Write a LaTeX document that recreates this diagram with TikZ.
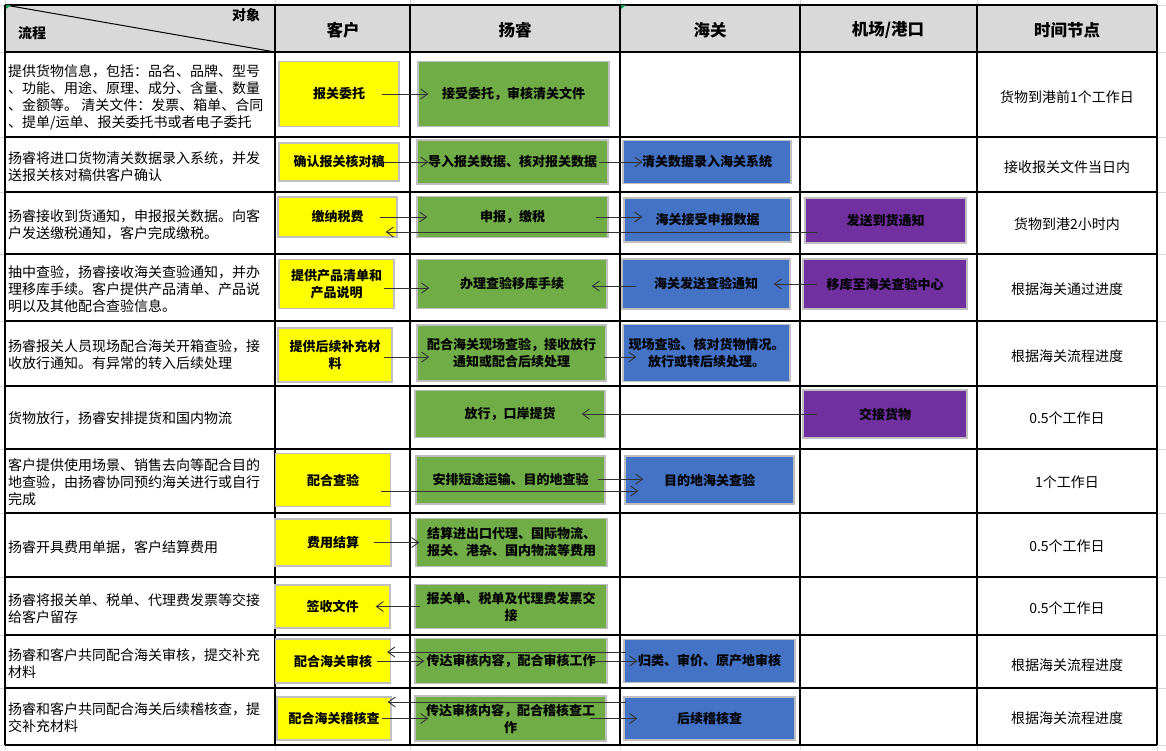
\documentclass[tikz,border=0pt]{standalone}
\usepackage{fontspec}
\setmainfont{Noto Sans CJK SC}
\usetikzlibrary{arrows.meta}
\definecolor{kyellow}{HTML}{FFFF00}
\definecolor{kgreen}{HTML}{70AD47}
\definecolor{kblue}{HTML}{4472C4}
\definecolor{kpurple}{HTML}{7030A0}
\definecolor{khead}{HTML}{D9D9D9}
\definecolor{kline}{HTML}{BFBFBF}
\definecolor{kmark}{HTML}{00A050}

\begin{document}
\begin{tikzpicture}[x=1pt, y=-1pt,
        box/.style={draw=kline, line width=1.3pt, align=center, inner sep=0pt, font=\fontsize{13}{17}\selectfont\bfseries},
        wh/.style 2 args={minimum width=#1pt, minimum height=#2pt},
        cust/.style={box, fill=kyellow},
        yr/.style={box, fill=kgreen},
        hg/.style={box, fill=kblue},
        gk/.style={box, fill=kpurple},
        flow/.style={anchor=west, align=left, inner sep=0pt, font=\fontsize{14}{17}\selectfont},
        due/.style={inner sep=0pt, font=\fontsize{14}{17}\selectfont},
        head/.style={inner sep=0pt, font=\fontsize{16.5}{19}\selectfont\bfseries},
        arr/.style={draw=black!80, line width=0.9pt, -{Straight Barb[length=7pt,width=10pt]}}]
        \useasboundingbox (0,0) rectangle (1166,750);
        \foreach \y in {5,52,137,192,254,321,386,449,513,577,635,688,745}
                \draw[black!15, line width=0.8pt] (0,\y) -- (1166,\y);
        \foreach \x in {5,275,410,620,800,977,1157}
                \draw[black!15, line width=0.8pt] (\x,0) -- (\x,750);
        \fill[khead] (5,5) rectangle (1157,52);
        \foreach \y in {5,52,137,192,254,321,386,449,513,577,635,688,745}
                \draw[line width=1.3pt] (5,\y) -- (1157,\y);
        \foreach \x in {5,275,410,620,800,977,1157}
                \draw[line width=1.3pt] (\x,5) -- (\x,745);
        \draw[line width=1pt] (5,5) -- (275,52);
        \fill[kmark] (6,5) -- (11,5) -- (6,9) -- cycle;
        \fill[kmark] (621,5) -- (626,5) -- (621,9) -- cycle;

        \node[inner sep=0pt, font=\fontsize{14}{16}\selectfont\bfseries] (obj) at (246,15) {对象};
        \node[inner sep=0pt, font=\fontsize{14}{16}\selectfont\bfseries] (proc) at (32,33) {流程};
        \node[head] (hc) at (343,30) {客户};
        \node[head] (hy) at (515,30) {扬睿};
        \node[head] (hh) at (710,30) {海关};
        \node[head] (hp) at (888,30) {机场/港口};
        \node[head] (ht) at (1067,30) {时间节点};

        \node[flow] (s1) at (8,97) {提供货物信息，包括：品名、品牌、型号\\、功能、用途、原理、成分、含量、数量\\、金额等。 清关文件：发票、箱单、合同\\、提单/运单、报关委托书或者电子委托};
        \node[flow] (s2) at (8,166.5) {扬睿将进口货物清关数据录入系统，并发\\送报关核对稿供客户确认};
        \node[flow] (s3) at (8,225) {扬睿接收到货通知，申报报关数据。向客\\户发送缴税通知，客户完成缴税。};
        \node[flow] (s4) at (8,289) {抽中查验，扬睿接收海关查验通知，并办\\理移库手续。客户提供产品清单、产品说\\明以及其他配合查验信息。};
        \node[flow] (s5) at (8,355) {扬睿报关人员现场配合海关开箱查验，接\\收放行通知。有异常的转入后续处理};
        \node[flow] (s6) at (8,418) {货物放行，扬睿安排提货和国内物流};
        \node[flow] (s7) at (8,482) {客户提供使用场景、销售去向等配合目的\\地查验，由扬睿协同预约海关进行或自行\\完成};
        \node[flow] (s8) at (8,547) {扬睿开具费用单据，客户结算费用};
        \node[flow] (s9) at (8,608.5) {扬睿将报关单、税单、代理费发票等交接\\给客户留存};
        \node[flow] (s10) at (8,663.5) {扬睿和客户共同配合海关审核，提交补充\\材料};
        \node[flow] (s11) at (8,718) {扬睿和客户共同配合海关后续稽核查，提\\交补充材料};

        \node[due] (t1) at (1067,97) {货物到港前1个工作日};
        \node[due] (t2) at (1067,167) {接收报关文件当日内};
        \node[due] (t3) at (1067,224) {货物到港2小时内};
        \node[due] (t4) at (1067,289) {根据海关通过进度};
        \node[due] (t5) at (1067,356) {根据海关流程进度};
        \node[due] (t6) at (1067,418) {0.5个工作日};
        \node[due] (t7) at (1067,482) {1个工作日};
        \node[due] (t8) at (1067,546) {0.5个工作日};
        \node[due] (t9) at (1067,608) {0.5个工作日};
        \node[due] (t10) at (1067,665) {根据海关流程进度};
        \node[due] (t11) at (1067,718) {根据海关流程进度};

        \node[cust, wh={120}{65}] (c1) at (339,94) {报关委托};
        \node[yr, wh={191}{65}] (r1) at (513.5,94) {接受委托，审核清关文件};

        \node[cust, wh={120}{38}] (c2) at (339,162) {确认报关核对稿};
        \node[yr, wh={191}{44}] (r2) at (512.5,162) {导入报关数据、核对报关数据};
        \node[hg, wh={168}{43}] (h2) at (707,162) {清关数据录入海关系统};

        \node[cust, wh={119}{40}] (c3) at (337.5,217) {缴纳税费};
        \node[yr, wh={191}{41}] (r3) at (512.5,217) {申报，缴税};
        \node[hg, wh={167}{44}] (h3) at (707.5,220) {海关接受申报数据};
        \node[gk, wh={161}{45}] (p3) at (885.5,220.5) {发送到货通知};

        \node[cust, wh={115}{49}] (c4) at (336.5,284) {提供产品清单和\\产品说明};
        \node[yr, wh={190}{49}] (r4) at (512,284) {办理查验移库手续};
        \node[hg, wh={168}{50}] (h4) at (706,284) {海关发送查验通知};
        \node[gk, wh={164}{50}] (p4) at (885,284) {移库至海关查验中心};

        \node[cust, wh={114}{54}] (c5) at (335,355) {提供后续补充材\\料};
        \node[yr, wh={189}{56}] (r5) at (511.5,353) {配合海关现场查验，接收放行\\通知或配合后续处理};
        \node[hg, wh={167}{57}] (h5) at (706.5,353) {现场查验、核对货物情况。\\放行或转后续处理。};

        \node[yr, wh={190}{47}] (r6) at (510,414) {放行，口岸提货};
        \node[gk, wh={164}{48}] (p6) at (885,414) {交接货物};

        \node[cust, wh={115}{53}] (c7) at (333,480) {配合查验};
        \node[yr, wh={189}{48}] (r7) at (510.5,480) {安排短途运输、目的地查验};
        \node[hg, wh={169}{48}] (h7) at (709.5,480) {目的地海关查验};

        \node[cust, wh={116}{47}] (c8) at (333,542.5) {费用结算};
        \node[yr, wh={191}{48}] (r8) at (511.5,542.5) {结算进出口代理、国际物流、\\报关、港杂、国内物流等费用};

        \node[cust, wh={115}{43}] (c9) at (332.5,606.5) {签收文件};
        \node[yr, wh={192}{44}] (r9) at (511,606.5) {报关单、税单及代理费发票交\\接};

        \node[cust, wh={115}{44}] (c10) at (333,661) {配合海关审核};
        \node[yr, wh={192}{45}] (r10) at (511,661) {传达审核内容，配合审核工作};
        \node[hg, wh={171}{43}] (h10) at (709.5,661) {归类、审价、原产地审核};

        \node[cust, wh={114}{43}] (c11) at (334,718.5) {配合海关稽核查};
        \node[yr, wh={191}{45}] (r11) at (510.5,718.5) {传达审核内容，配合稽核查工\\作};
        \node[hg, wh={171}{43}] (h11) at (709.5,718.5) {后续稽核查};

        \draw[arr] ([shift={(-18,0)}]c1.east) -- ([shift={(11,0)}]r1.west);
        \draw[arr] ([shift={(-16,0)}]c2.east) -- ([shift={(12,0)}]r2.west);
        \draw[arr] ([shift={(-10,0)}]r2.east) -- ([shift={(20,0)}]h2.west);
        \draw[arr] ([shift={(-18,0)}]c3.east) -- ([shift={(11,0)}]r3.west);
        \draw[arr] ([shift={(-13,0)}]r3.east) -- ([shift={(19,-3)}]h3.west);
        \draw[arr] ([shift={(13,11.5)}]p3.west) -- ([shift={(-12,15)}]c3.east);
        \draw[arr] ([shift={(-11,4)}]c4.east) -- ([shift={(13,4)}]r4.west);
        \draw[arr] ([shift={(15,2)}]h4.west) -- ([shift={(-16,2)}]r4.east);
        \draw[arr] ([shift={(15,0)}]p4.west) -- ([shift={(-17,0)}]h4.east);
        \draw[arr] ([shift={(-9,2)}]c5.east) -- ([shift={(13,4)}]r5.west);
        \draw[arr] ([shift={(-3,4)}]r5.east) -- ([shift={(14,4)}]h5.west);
        \draw[arr] ([shift={(15,0)}]p6.west) -- ([shift={(-24,0)}]r6.east);
        \draw[arr] ([shift={(-8,-1)}]r7.east) -- ([shift={(19,-1)}]h7.west);
        \draw[arr] ([shift={(-10,11)}]c7.east) -- ([shift={(14,11)}]h7.west);
        \draw[arr] ([shift={(-18,0)}]c8.east) -- ([shift={(4,0)}]r8.west);
        \draw[arr] ([shift={(6,0)}]r9.west) -- ([shift={(-15,0)}]c9.east);
        \draw[arr] ([shift={(3,-9)}]h10.west) -- ([shift={(-4,-9)}]c10.east);
        \draw[arr] ([shift={(-14,0)}]c10.east) -- ([shift={(10,0)}]r10.west);
        \draw[arr] ([shift={(-14,0)}]r10.east) -- ([shift={(14,0)}]h10.west);
        \draw[arr] ([shift={(3,-16.5)}]h11.west) -- ([shift={(-4,-16.5)}]c11.east);
        \draw[arr] ([shift={(-10,0)}]c11.east) -- ([shift={(14,0)}]r11.west);
        \draw[arr] ([shift={(-17,0)}]r11.east) -- ([shift={(14,0)}]h11.west);
\end{tikzpicture}
\end{document}
